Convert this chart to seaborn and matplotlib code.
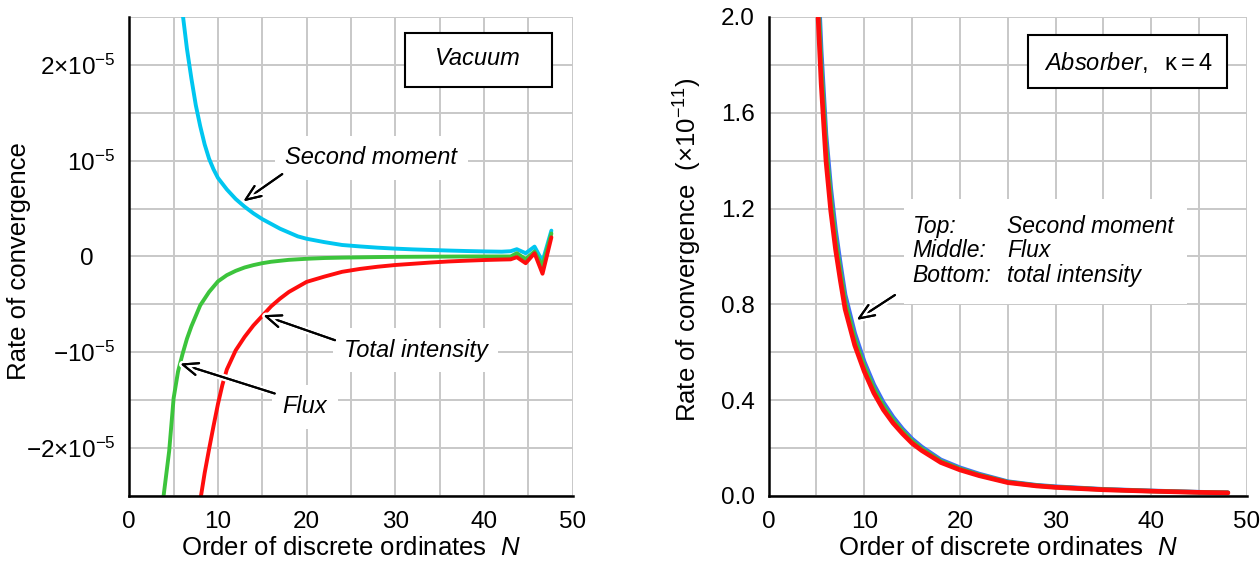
import numpy as np
import seaborn as sns
import matplotlib.pyplot as plt
from matplotlib.patches import Rectangle
from matplotlib.transforms import ScaledTranslation
import matplotlib.patheffects as pe

# Vacuum case: rate of convergence, in units of 1e-5
vac_n_second = [5.5, 6, 6.5, 7, 7.5, 8, 8.5, 9, 9.5, 10, 11, 12, 13, 14, 15, 16, 17, 18, 19, 20,
                22, 24, 26, 28, 30, 32, 34, 36, 38, 40, 42, 43, 43.7, 44.7, 45.7, 46.6, 47.6]
vac_second = [3.05, 2.55, 2.17, 1.86, 1.58, 1.36, 1.17, 1.02, 0.91, 0.82, 0.70, 0.60, 0.52, 0.45, 0.39, 0.34, 0.29, 0.25, 0.21, 0.185,
              0.15, 0.12, 0.105, 0.092, 0.082, 0.074, 0.068, 0.062, 0.057, 0.053, 0.050, 0.055, 0.076, 0.034, 0.103, -0.052, 0.27]

vac_n_flux = [3.8, 4.5, 5, 5.5, 6, 6.5, 7, 7.5, 8, 9, 10, 11, 12, 13, 14, 15, 16,
              18, 20, 22, 24, 26, 28, 30, 34, 38, 42, 43, 43.7, 44.7, 45.7, 46.6, 47.6]
vac_flux = [-2.55, -2.03, -1.48, -1.20, -1.02, -0.86, -0.73, -0.62, -0.51, -0.37, -0.26, -0.195, -0.15, -0.115, -0.09, -0.07, -0.055,
            -0.035, -0.024, -0.016, -0.012, -0.009, -0.006, -0.004, -0.002, 0.0, 0.0, 0.0, 0.034, -0.028, 0.052, -0.10, 0.24]

vac_n_total = [8, 8.5, 9, 9.5, 10, 10.5, 11, 12, 13, 14, 15, 16, 17, 18,
               20, 22, 24, 26, 28, 30, 32, 34, 36, 38, 40, 42, 43, 43.7, 44.7, 45.7, 46.6, 47.6]
vac_total = [-2.55, -2.26, -2.01, -1.77, -1.54, -1.34, -1.18, -0.98, -0.84, -0.72, -0.62, -0.52, -0.44, -0.37,
             -0.265, -0.21, -0.16, -0.13, -0.107, -0.089, -0.076, -0.063, -0.052, -0.044, -0.037, -0.032, -0.03,
             -0.007, -0.07, 0.034, -0.18, 0.20]

# Absorber case (kappa = 4): rate of convergence, in units of 1e-11
abs_n = [5, 5.5, 6, 6.5, 7, 7.5, 8, 9, 10, 11, 12, 13, 14, 15, 16, 18, 20, 22, 25, 28, 30, 35, 40, 45, 48]
abs_second = [2.32, 1.86, 1.51, 1.285, 1.11, 0.97, 0.84, 0.68, 0.56, 0.465, 0.39, 0.33, 0.28, 0.238, 0.205,
              0.151, 0.118, 0.092, 0.060, 0.045, 0.039, 0.028, 0.0215, 0.016, 0.014]
abs_flux = [2.23, 1.79, 1.46, 1.24, 1.07, 0.935, 0.81, 0.655, 0.54, 0.447, 0.375, 0.317, 0.27, 0.229, 0.197,
            0.145, 0.113, 0.088, 0.058, 0.0435, 0.037, 0.027, 0.0205, 0.0155, 0.0135]
abs_total = [2.15, 1.72, 1.40, 1.19, 1.03, 0.90, 0.78, 0.63, 0.52, 0.43, 0.36, 0.305, 0.26, 0.22, 0.19,
             0.14, 0.109, 0.085, 0.056, 0.042, 0.036, 0.026, 0.020, 0.015, 0.013]

left_yticks = [-2, -1, 0, 1, 2]
left_yticklabels = [r"$-2{\times}10^{-5}$", r"$-10^{-5}$", "0", r"$10^{-5}$", r"$2{\times}10^{-5}$"]
right_yticks = [0.0, 0.4, 0.8, 1.2, 1.6, 2.0]
right_yticklabels = ["0.0", "0.4", "0.8", "1.2", "1.6", "2.0"]

CYAN = "#00c6f0"
GREEN = "#3cc43c"
RED = "#ff0d0d"
BLUE = "#3f6ef5"

sns.set_theme(style="whitegrid")
plt.rcParams["font.family"] = ["Liberation Sans", "DejaVu Sans"]
plt.rcParams["mathtext.fontset"] = "custom"
plt.rcParams["mathtext.rm"] = "Liberation Sans"
plt.rcParams["mathtext.it"] = "Liberation Sans:italic"
plt.rcParams["mathtext.bf"] = "Liberation Sans:bold"
plt.rcParams["axes.axisbelow"] = True
plt.rcParams["text.color"] = "black"
plt.rcParams["axes.labelcolor"] = "black"

fig = plt.figure(figsize=(12.6, 5.66), dpi=100)
ax1 = fig.add_axes([0.1026, 0.1237, 0.3519, 0.8463])
ax2 = fig.add_axes([0.6100, 0.1237, 0.3797, 0.8463])


def style_axes(ax):
    ax.grid(True, which="both", color="#c8c8c8", linewidth=1.4)
    for side in ["top", "right"]:
        ax.spines[side].set_visible(False)
    for side in ["left", "bottom"]:
        ax.spines[side].set_color("black")
        ax.spines[side].set_linewidth(1.8)
    ax.tick_params(which="both", length=0, labelsize=17.5, colors="black")
    ax.tick_params(axis="x", pad=11)
    ax.tick_params(axis="y", pad=10)
    ax.set_xlim(0, 50)
    ax.set_xticks(np.arange(0, 51, 10))
    ax.set_xticks(np.arange(5, 50, 10), minor=True)
    ax.set_xlabel("Order of discrete ordinates  $N$", fontsize=18.5)
    ax.xaxis.set_label_coords(0.5, -0.083)


def arrow(ax, tip, tail):
    ann = ax.annotate("", xy=tip, xytext=tail, zorder=6,
                      arrowprops=dict(arrowstyle="->,head_length=0.55,head_width=0.22",
                                      color="black", lw=1.5, shrinkA=0, shrinkB=0,
                                      mutation_scale=20))
    ann.arrow_patch.set_path_effects([pe.withStroke(linewidth=5, foreground="white"), pe.Normal()])


# ---- left panel: vacuum ----
sns.lineplot(x=vac_n_second, y=vac_second, ax=ax1, color=CYAN, linewidth=2.8, sort=False, estimator=None)
sns.lineplot(x=vac_n_flux, y=vac_flux, ax=ax1, color=GREEN, linewidth=2.8, sort=False, estimator=None)
sns.lineplot(x=vac_n_total, y=vac_total, ax=ax1, color=RED, linewidth=2.8, sort=False, estimator=None)
style_axes(ax1)
ax1.set_ylim(-2.5, 2.5)
ax1.set_yticks(left_yticks)
ax1.set_yticklabels(left_yticklabels)
ax1.set_yticks(np.arange(-2.5, 2.6, 1.0), minor=True)
ax1.set_ylabel("Rate of convergence", fontsize=18.5)
ax1.yaxis.set_label_coords(-0.222, 0.49)
# the "0" label sits left of the superscript column, as in the original
zero_lbl = ax1.get_yticklabels()[2]
zero_lbl.set_transform(zero_lbl.get_transform() + ScaledTranslation(-0.22, 0, fig.dpi_scale_trans))

lbl = dict(fontsize=17, style="italic", ha="center", va="center", zorder=5,
           bbox=dict(boxstyle="square,pad=0.45", fc="white", ec="none"))
ax1.text(27.3, 1.03, "Second moment", **lbl)
ax1.text(32.3, -0.98, "Total intensity", **lbl)
ax1.text(19.8, -1.57, "Flux", **lbl)
arrow(ax1, (12.85, 0.575), (17.25, 0.86))
arrow(ax1, (15.1, -0.613), (23.2, -0.874))
arrow(ax1, (5.72, -1.118), (16.4, -1.43))

ax1.add_patch(Rectangle((0.6218, 0.8545), 0.3308, 0.1115, transform=ax1.transAxes,
                        fc="white", ec="black", lw=1.5, zorder=5))
ax1.text(0.7872, 0.913, "Vacuum", transform=ax1.transAxes, fontsize=17, style="italic",
         ha="center", va="center", zorder=6)

# ---- right panel: absorber ----
sns.lineplot(x=abs_n, y=abs_second, ax=ax2, color=BLUE, linewidth=3.2, sort=False, estimator=None)
sns.lineplot(x=abs_n, y=abs_flux, ax=ax2, color=GREEN, linewidth=3.2, sort=False, estimator=None)
sns.lineplot(x=abs_n, y=abs_total, ax=ax2, color=RED, linewidth=3.4, sort=False, estimator=None)
style_axes(ax2)
ax2.set_ylim(0, 2.0)
ax2.set_yticks(right_yticks)
ax2.set_yticklabels(right_yticklabels)
ax2.set_yticks(np.arange(0.2, 2.0, 0.4), minor=True)
ax2.set_ylabel(r"Rate of convergence  ($\times10^{-11}$)", fontsize=18.5)
ax2.yaxis.set_label_coords(-0.135, 0.515)

ax2.add_patch(Rectangle((14.2, 0.80), 29.5, 0.44, fc="white", ec="none", zorder=1.5))
rows_y = [1.097, 0.999, 0.895]
for y, a, b in zip(rows_y, ["Top:", "Middle:", "Bottom:"], ["Second moment", "Flux", "total intensity"]):
    ax2.text(15.06, y, a, fontsize=16.5, style="italic", ha="left", va="baseline", zorder=5)
    ax2.text(24.94, y, b, fontsize=16.5, style="italic", ha="left", va="baseline", zorder=5)
arrow(ax2, (9.2, 0.735), (13.2, 0.839))

ax2.add_patch(Rectangle((0.5429, 0.8524), 0.416, 0.110, transform=ax2.transAxes,
                        fc="white", ec="black", lw=1.5, zorder=5))
ax2.text(0.7508, 0.906, r"$\mathit{Absorber},\ \ \mathrm{\kappa} = 4$", transform=ax2.transAxes,
         fontsize=17, ha="center", va="center", zorder=6)

fig.savefig("out.png", dpi=100)
